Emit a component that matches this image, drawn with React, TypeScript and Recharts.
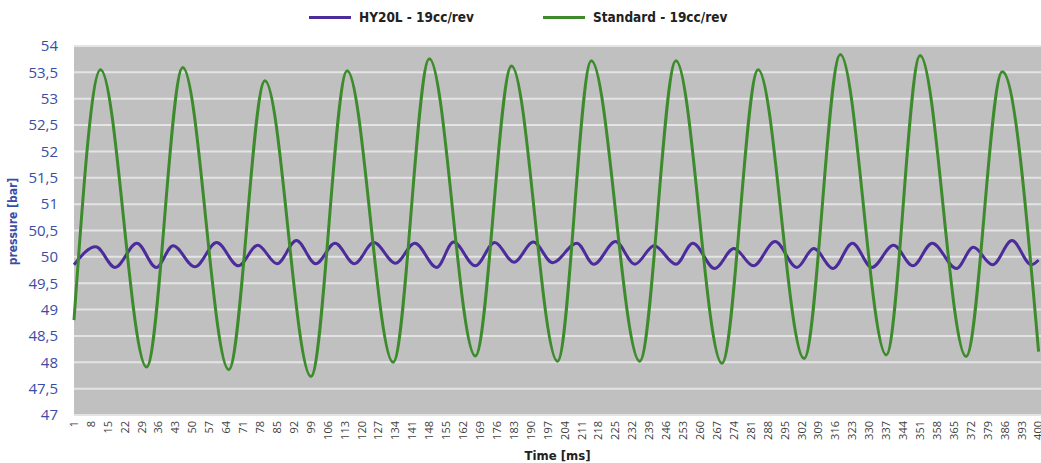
import React from 'react';
import { LineChart, Line, XAxis, YAxis, CartesianGrid, Legend, Label } from 'recharts';

const seriesNames = ['HY20L - 19cc/rev', 'Standard - 19cc/rev'];
const seriesColors = ['#4B2C9A', '#3E8B2E'];

// HY20L - 19cc/rev : extrema
const hyTime = [1, 10, 18, 27, 35, 42, 51, 60, 69, 77, 85, 93, 101, 109, 117, 125, 134, 142, 151, 158, 167, 175, 183, 191, 199, 209, 216, 225, 233, 241, 250, 257, 266, 274, 282, 291, 300, 307, 315, 323, 331, 340, 348, 356, 366, 373, 381, 389, 397, 400];
const hyPressure = [49.85, 50.19, 49.8, 50.26, 49.8, 50.21, 49.81, 50.27, 49.83, 50.22, 49.87, 50.31, 49.87, 50.26, 49.87, 50.27, 49.88, 50.26, 49.8, 50.28, 49.83, 50.27, 49.9, 50.28, 49.89, 50.26, 49.86, 50.29, 49.86, 50.21, 49.86, 50.26, 49.78, 50.16, 49.83, 50.29, 49.8, 50.16, 49.78, 50.26, 49.8, 50.22, 49.83, 50.26, 49.78, 50.18, 49.85, 50.31, 49.85, 49.94];

// Standard - 19cc/rev : extrema
const stdTime = [1, 12, 31, 46, 65, 80, 99, 114, 133, 148, 167, 182, 201, 215, 235, 250, 269, 284, 303, 318, 337, 351, 370, 385, 400];
const stdPressure = [48.8, 53.55, 47.91, 53.59, 47.86, 53.34, 47.73, 53.53, 48.0, 53.76, 48.12, 53.62, 48.02, 53.72, 48.02, 53.72, 47.98, 53.55, 48.07, 53.84, 48.14, 53.82, 48.11, 53.51, 48.2];

const timeTicks = [1, 8, 15, 22, 29, 36, 43, 50, 57, 64, 71, 78, 85, 92, 99, 106, 113, 120, 127, 134, 141, 148, 155, 162, 169, 176, 183, 190, 197, 204, 211, 218, 225, 232, 239, 246, 253, 260, 267, 274, 281, 288, 295, 302, 309, 316, 323, 330, 337, 344, 351, 358, 365, 372, 379, 386, 393, 400];
const pressureTicks = [47, 47.5, 48, 48.5, 49, 49.5, 50, 50.5, 51, 51.5, 52, 52.5, 53, 53.5, 54];

const hyData = hyTime.map((t, i) => ({ time: t, pressure: hyPressure[i] }));
const stdData = stdTime.map((t, i) => ({ time: t, pressure: stdPressure[i] }));

const titleFont = "'Liberation Sans Narrow', 'DejaVu Sans Condensed', 'Noto Sans', sans-serif";
const tickFont = "'Open Sans', 'Noto Sans', sans-serif";
const blue = '#3A4DA6';

const LegendContent = () => (
  <div style={{ display: 'flex', paddingLeft: 309, fontFamily: titleFont, fontWeight: 700, fontSize: 13.5, color: '#222' }}>
    {seriesNames.map((n, i) => (
      <div key={n} style={{ display: 'flex', alignItems: 'center', marginRight: 69 }}>
        <span style={{ display: 'inline-block', width: 42, height: 3, background: seriesColors[i], marginRight: 8 }} />
        <span>{n}</span>
      </div>
    ))}
  </div>
);

const XTick = (props: any) => {
  const { x, y, payload } = props;
  return (
    <text x={x} y={y} transform={`rotate(-90, ${x}, ${y})`} textAnchor="end" dy="0.35em" fontSize={11} fontFamily={tickFont} fill="#404040">
      {payload.value}
    </text>
  );
};

const YTitle = (props: any) => {
  const { viewBox } = props;
  const cx = viewBox.x + 13;
  const cy = viewBox.y + viewBox.height / 2 - 9;
  return (
    <text x={cx} y={cy} transform={`rotate(-90, ${cx}, ${cy})`} textAnchor="middle" dominantBaseline="central" fontSize={12} fontWeight={700} fontFamily={titleFont} fill={blue}>
      pressure [bar]
    </text>
  );
};

export default function App() {
  return (
    <div style={{ position: 'absolute', left: 0, top: 0, width: 1041, height: 463, background: '#fff' }}>
      <LineChart width={1041} height={463} margin={{ top: 46, right: 0, left: 0, bottom: 0 }}>
        <CartesianGrid vertical={false} horizontal={true} stroke="#E4E4E4" strokeWidth={2} fill="#C1C0C0" />
        <XAxis
          dataKey="time"
          type="number"
          domain={[1, 401]}
          ticks={timeTicks}
          interval={0}
          height={48}
          tick={<XTick />}
          tickLine={false}
          axisLine={false}
          tickSize={0}
          tickMargin={6}
          allowDuplicatedCategory={false}
        >
          <Label value="Time [ms]" position="insideBottom" offset={3} style={{ fontFamily: titleFont, fontWeight: 700, fontSize: 13, fill: '#222' }} />
        </XAxis>
        <YAxis
          type="number"
          domain={[47, 54]}
          ticks={pressureTicks}
          interval={0}
          width={74}
          tickLine={false}
          axisLine={false}
          tickSize={0}
          tickMargin={16}
          tickFormatter={(v: number) => String(v).replace('.', ',')}
          tick={{ fontSize: 15, fontFamily: tickFont, fill: blue }}
        >
          <Label content={<YTitle />} />
        </YAxis>
        <Legend verticalAlign="middle" content={<LegendContent />} wrapperStyle={{ top: 9, left: 0, width: 1041 }} />
        <Line data={hyData} dataKey="pressure" name={seriesNames[0]} type="monotone" stroke={seriesColors[0]} strokeWidth={3} dot={false} isAnimationActive={false} />
        <Line data={stdData} dataKey="pressure" name={seriesNames[1]} type="monotone" stroke={seriesColors[1]} strokeWidth={3} dot={false} isAnimationActive={false} />
      </LineChart>
    </div>
  );
}
